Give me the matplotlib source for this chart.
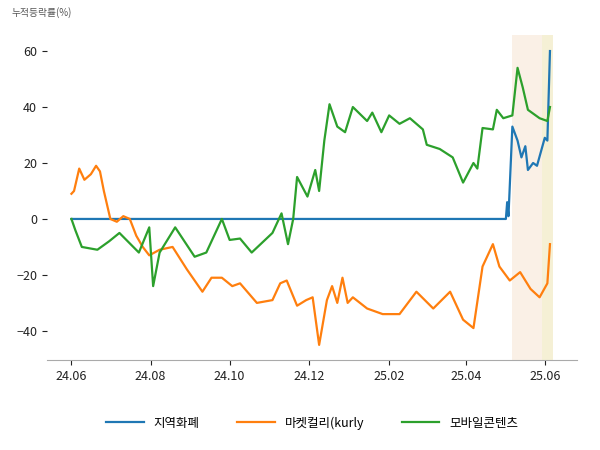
import matplotlib
matplotlib.use("Agg")
import matplotlib.pyplot as plt
import pandas as pd

plt.rcParams["font.family"] = ["Noto Sans CJK KR", "Noto Sans CJK JP", "Noto Sans CJK SC",
                               "DejaVu Sans"]

start = pd.Timestamp("2024-06-01")

# 지역화폐
blue_days = [0, 335, 336, 337, 340, 344, 347, 350, 352, 356, 359, 365, 367, 369]
blue_vals = [0, 0, 6, 1, 33, 28, 22, 26, 17.5, 20, 19, 29, 28, 60]

# 마켓컬리(kurly
orange_days = [0, 2, 6, 10, 15, 19, 22, 25, 30, 35, 40, 45, 50, 55, 60, 64, 68, 78, 89,
               101, 108, 116, 124, 130, 143, 155, 161, 166, 174, 181, 186, 191, 197, 201,
               205, 209, 213, 217, 228, 240, 253, 266, 279, 292, 302, 310, 317, 325, 330,
               338, 346, 354, 361, 367, 369]
orange_vals = [9, 10, 18, 14, 16, 19, 17, 10, 0, -1, 1, 0, -6, -10, -13, -12, -11, -10, -18,
               -26, -21, -21, -24, -23, -30, -29, -23, -22, -31, -29, -28, -45, -29, -24,
               -30, -21, -30, -28, -32, -34, -34, -26, -32, -26, -36, -39, -17, -9, -17,
               -22, -19, -25, -28, -23, -9]

# 모바일콘텐츠
green_days = [0, 3, 8, 20, 29, 37, 52, 60, 63, 68, 80, 95, 104, 116, 122, 130, 139, 155,
              162, 167, 171, 174, 182, 188, 191, 195, 199, 205, 211, 217, 228, 232, 239,
              245, 253, 261, 271, 274, 284, 294, 302, 310, 313, 317, 325, 328, 333, 340,
              344, 348, 352, 361, 367, 369]
green_vals = [0, -4, -10, -11, -8, -5, -12, -3, -24, -12, -3, -13.5, -12, 0, -7.5, -7, -12, -5,
              2, -9, 0, 15, 8, 17.5, 10, 28, 41, 33, 31, 40, 35, 38, 31,
              37, 34, 36, 32, 26.5, 25, 22, 13, 20, 18, 32.5, 32, 39, 36, 37,
              54, 47, 39, 36, 35, 40]

tick_labels = ["24.06", "24.08", "24.10", "24.12", "25.02", "25.04", "25.06"]
tick_dates = ["2024-06-01", "2024-08-01", "2024-10-01", "2024-12-01",
              "2025-02-01", "2025-04-01", "2025-06-01"]


def to_dates(days):
    return [start + pd.Timedelta(days=d) for d in days]


fig = plt.figure(figsize=(6, 4.5), dpi=100)
ax = fig.add_axes([0.078, 0.2, 0.884, 0.722])

ax.axvspan(start + pd.Timedelta(days=340), start + pd.Timedelta(days=363),
           color="#faf0e6", lw=0)
ax.axvspan(start + pd.Timedelta(days=363), start + pd.Timedelta(days=371),
           color="#f5f0d5", lw=0)

ax.plot(to_dates(blue_days), blue_vals, color="#1f77b4", lw=1.6, label="지역화폐")
ax.plot(to_dates(orange_days), orange_vals, color="#ff7f0e", lw=1.6, label="마켓컬리(kurly")
ax.plot(to_dates(green_days), green_vals, color="#2ca02c", lw=1.6, label="모바일콘텐츠")

ax.set_xlim(start - pd.Timedelta(days=19), start + pd.Timedelta(days=390))
ax.set_ylim(-50.4, 65.7)
ax.set_yticks([-40, -20, 0, 20, 40, 60])
ax.set_xticks(pd.to_datetime(tick_dates))
ax.set_xticklabels(tick_labels)
ax.tick_params(labelsize=9, colors="#222222")
for s in ["top", "right"]:
    ax.spines[s].set_visible(False)
for s in ["left", "bottom"]:
    ax.spines[s].set_color("#aaaaaa")
ax.spines["left"].set_visible(False)

fig.text(0.02, 0.965, "누적등락률(%)", fontsize=7, color="#555555")
fig.legend(loc="lower center", ncol=3, frameon=False, fontsize=9,
           bbox_to_anchor=(0.52, 0.02), handlelength=3, columnspacing=3)

fig.savefig("out.png", dpi=100)
